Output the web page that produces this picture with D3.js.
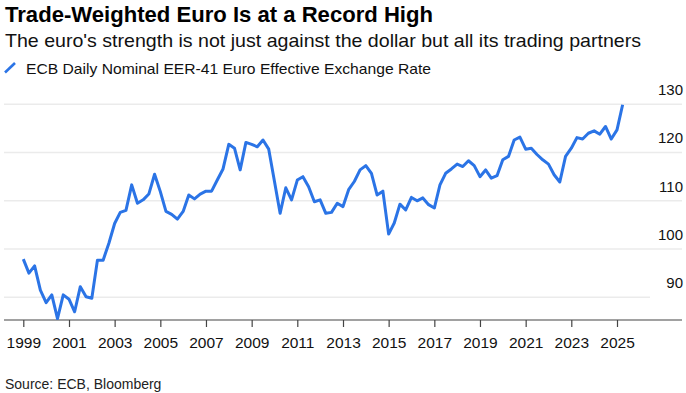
<!DOCTYPE html>
<html>
<head>
<meta charset="utf-8">
<script src="https://cdn.jsdelivr.net/npm/d3@7/dist/d3.min.js"></script>
<style>
  body { margin: 0; background: #fff; }
  text { font-family: "Liberation Sans", Arial, sans-serif; fill: #111; }
</style>
</head>
<body>
<svg id="chart"></svg>
<script>
/* quarterly readings, 1999 Q1 .. 2025 Q2 */
var firstYear = 1999;
var eer41 = [
  97.9, 95.0, 96.5, 91.5,
  88.9, 90.5, 85.6, 90.5,
  89.6, 87.0, 92.2, 90.1,
  89.8, 97.7, 97.7, 101.2,
  105.3, 107.6, 108.0, 113.3,
  109.5, 110.2, 111.4, 115.5,
  111.9, 107.8, 107.2, 106.2,
  107.8, 111.2, 110.4, 111.4,
  112.0, 112.0, 114.3, 116.6,
  121.7, 120.9, 116.4, 122.1,
  121.7, 121.2, 122.6, 120.7,
  114.0, 107.4, 112.7, 110.2,
  114.3, 115.0, 112.9, 109.8,
  110.2, 107.4, 107.6, 109.5,
  108.8, 112.3, 114.0, 116.4,
  117.3, 115.7, 111.2, 112.0,
  103.1, 105.4, 109.3, 108.1,
  110.7, 110.0, 110.6, 109.2,
  108.5, 113.3, 115.7, 116.6,
  117.6, 117.1, 118.3, 117.3,
  115.0, 116.4, 114.7, 115.2,
  118.5, 119.2, 122.6, 123.2,
  120.7, 120.9, 119.6, 118.5,
  117.6, 115.4, 113.9, 119.2,
  120.9, 123.1, 122.8, 124.0,
  124.5, 123.8, 125.4, 122.8,
  124.7, 129.9
];
var xTicks = [1999, 2001, 2003, 2005, 2007, 2009, 2011, 2013, 2015, 2017, 2019, 2021, 2023, 2025];
var yTicks = [90, 100, 110, 120, 130];

var title = "Trade-Weighted Euro Is at a Record High";
var subtitle = "The euro's strength is not just against the dollar but all its trading partners";
var legendLabel = "ECB Daily Nominal EER-41 Euro Effective Exchange Rate";
var source = "Source: ECB, Bloomberg";

var blue = "#2b74e6";

var svg = d3.select("#chart")
    .attr("width", 686)
    .attr("height", 393);

var data = eer41.map(function(v, i) {
  return { date: new Date(firstYear, i * 3, 1), value: v };
});

var x = d3.scaleTime()
    .domain([new Date(1999, 0, 1), new Date(2025, 0, 1)])
    .range([23.3, 617]);

var y = d3.scaleLinear()
    .domain([90, 130])
    .range([297.3, 104.3]);

/* header */
svg.append("text")
    .attr("x", 5).attr("y", 21.5)
    .attr("textLength", 428).attr("lengthAdjust", "spacingAndGlyphs")
    .style("font-size", "22px").style("font-weight", "bold").style("fill", "#000")
    .text(title);

svg.append("text")
    .attr("x", 5).attr("y", 47)
    .attr("textLength", 636).attr("lengthAdjust", "spacingAndGlyphs")
    .style("font-size", "18.5px")
    .text(subtitle);

svg.append("line")
    .attr("x1", 5).attr("y1", 72.5).attr("x2", 15).attr("y2", 63)
    .attr("stroke", blue).attr("stroke-width", 2.6);

svg.append("text")
    .attr("x", 26).attr("y", 74)
    .attr("textLength", 405).attr("lengthAdjust", "spacingAndGlyphs")
    .style("font-size", "15px")
    .text(legendLabel);

/* gridlines + right labels */
var grid = svg.append("g");
grid.selectAll("line")
  .data(yTicks)
  .enter().append("line")
    .attr("x1", 4)
    .attr("x2", function(d) { return d === 90 ? 650 : 682; })
    .attr("y1", function(d) { return y(d); })
    .attr("y2", function(d) { return y(d); })
    .attr("stroke", "#ebebeb")
    .attr("stroke-width", 1.6);

grid.selectAll("text")
  .data(yTicks)
  .enter().append("text")
    .attr("x", 683)
    .attr("y", function(d) { return y(d) - 9.3; })
    .attr("text-anchor", "end")
    .style("font-size", "15px")
    .text(function(d) { return d; });

/* x axis */
var xaxis = svg.append("g")
    .attr("transform", "translate(0,320)")
    .call(d3.axisBottom(x)
      .tickValues(xTicks.map(function(t) { return new Date(t, 0, 1); }))
      .tickFormat(d3.timeFormat("%Y"))
      .tickSize(7)
      .tickSizeOuter(0));

xaxis.select(".domain").remove();
xaxis.append("line")
    .attr("x1", 4).attr("x2", 682)
    .attr("stroke", "#444").attr("stroke-width", 1.2);
xaxis.selectAll(".tick line").attr("stroke", "#444").attr("stroke-width", 1.2);
xaxis.selectAll(".tick text")
    .attr("y", 28).attr("dy", 0)
    .style("font-size", "15.5px")
    .style("font-family", "'Liberation Sans', Arial, sans-serif")
    .attr("fill", "#111");

/* the series */
var line = d3.line()
    .x(function(d) { return x(d.date); })
    .y(function(d) { return y(d.value); });

svg.append("path")
    .datum(data)
    .attr("fill", "none")
    .attr("stroke", blue)
    .attr("stroke-width", 3)
    .attr("stroke-linejoin", "round")
    .attr("d", line);

svg.append("text")
    .attr("x", 5).attr("y", 389)
    .style("font-size", "14px")
    .style("fill", "#222")
    .text(source);
</script>
</body>
</html>
